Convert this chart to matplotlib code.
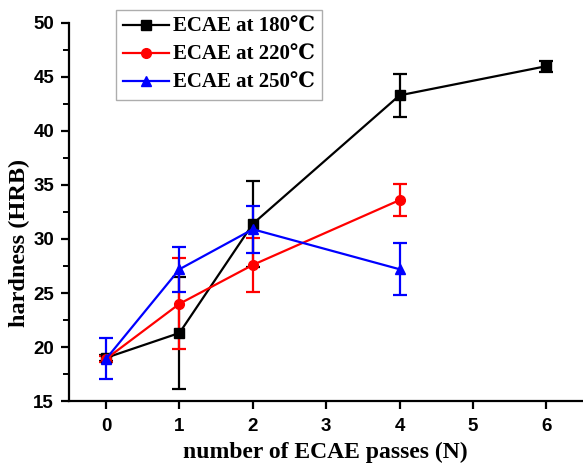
import matplotlib
matplotlib.use("Agg")
import matplotlib.pyplot as plt
from matplotlib.ticker import MultipleLocator
from matplotlib.lines import Line2D

passes_180 = [0, 1, 2, 4, 6]
hard_180 = [19.0, 21.3, 31.4, 43.3, 46.0]
err_180 = [0.3, 5.2, 4.0, 2.0, 0.5]

passes_220 = [0, 1, 2, 4]
hard_220 = [18.9, 24.0, 27.6, 33.6]
err_220 = [0.3, 4.2, 2.5, 1.5]

passes_250 = [0, 1, 2, 4]
hard_250 = [18.9, 27.2, 30.9, 27.2]
err_250 = [1.9, 2.1, 2.2, 2.4]

labels = ["ECAE at 180\u2103", "ECAE at 220\u2103", "ECAE at 250\u2103"]
xticks = [0, 1, 2, 3, 4, 5, 6]
yticks = [15, 20, 25, 30, 35, 40, 45, 50]

fig = plt.figure(figsize=(5.83, 4.65), dpi=100)
ax = fig.add_axes([0.119, 0.1376, 0.881, 0.813])

serif = ['Liberation Serif', 'DejaVu Serif', 'DejaVu Sans']

series = [
    (passes_180, hard_180, err_180, 'black', 's'),
    (passes_220, hard_220, err_220, 'red', 'o'),
    (passes_250, hard_250, err_250, 'blue', '^'),
]
handles = []
for (x, y, e, c, m), lab in zip(series, labels):
    ax.errorbar(x, y, yerr=e, color=c, marker=m, markersize=7, linewidth=1.6,
                capsize=5, capthick=1.6, elinewidth=1.6, clip_on=False)
    handles.append(Line2D([], [], color=c, marker=m, markersize=7, linewidth=1.6, label=lab))

ax.set_xlim(-0.5, 6.5)
ax.set_ylim(15, 50)
ax.set_xticks(xticks)
ax.set_yticks(yticks)
ax.yaxis.set_minor_locator(MultipleLocator(2.5))
ax.spines['top'].set_visible(False)
ax.spines['right'].set_visible(False)
for s in ['left', 'bottom']:
    ax.spines[s].set_linewidth(1.6)
ax.tick_params(which='major', direction='out', length=6, width=1.6)
ax.tick_params(which='minor', direction='out', length=4, width=1.4)
for lab in ax.get_xticklabels() + ax.get_yticklabels():
    lab.set_fontfamily('Liberation Sans')
    lab.set_fontweight('bold')
    lab.set_fontsize(13.5)
ax.tick_params(axis='x', pad=6)
ax.tick_params(axis='y', pad=5)

fig.text(325 / 583, 1 - 452 / 465, "number of ECAE passes (N)", fontfamily=serif,
         fontweight='bold', fontsize=17, ha='center', va='center')
fig.text(19 / 583, 1 - 243 / 465, "hardness (HRB)", fontfamily=serif,
         fontweight='bold', fontsize=17.5, ha='center', va='center', rotation=90)

leg = ax.legend(handles=handles, loc='upper left', bbox_to_anchor=(0.09, 1.035),
                frameon=True, fancybox=False, edgecolor='#999999', handlelength=2.2,
                handletextpad=0.2, borderpad=0.35, labelspacing=0.38, borderaxespad=0,
                prop={'family': serif, 'weight': 'bold', 'size': 15})
leg.get_frame().set_linewidth(1.0)

fig.savefig("out.png", dpi=100)
